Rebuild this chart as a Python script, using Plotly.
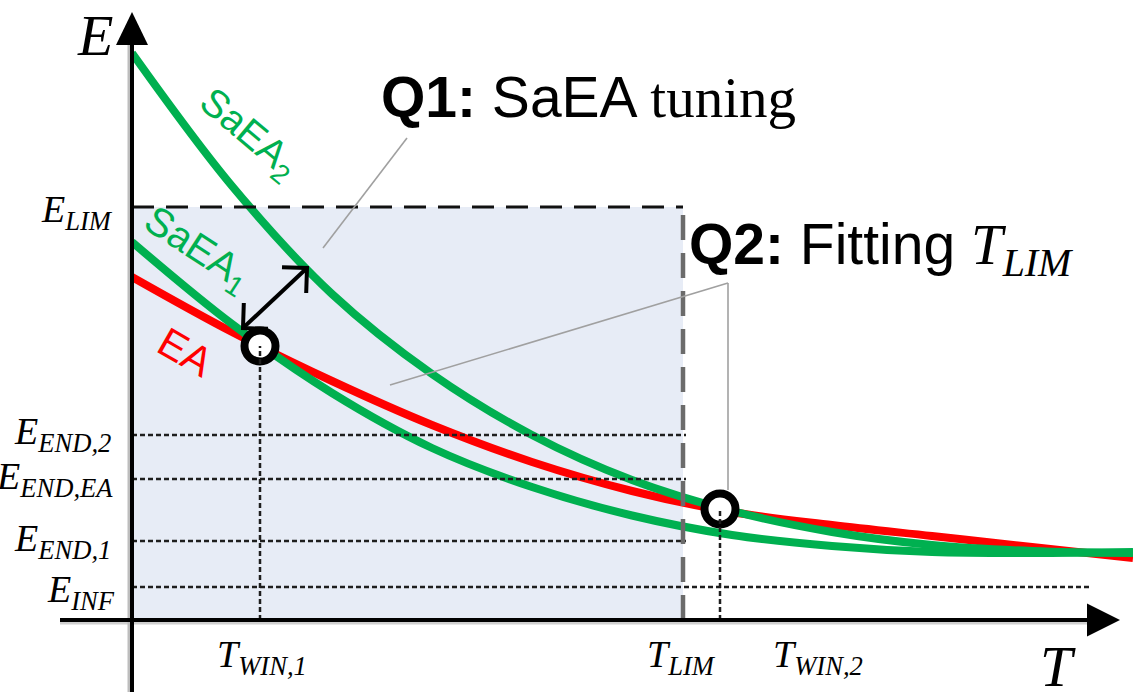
import math
import plotly.graph_objects as go

# ---- curve samples: T (time) vs E (error) ----
t_grid = [0, 1, 2, 3, 4, 5, 6, 7, 8, 9, 10.01]
e_saea2 = [5.67, 4.34, 3.26, 2.46, 1.85, 1.40, 1.09, 0.88, 0.75, 0.69, 0.67]
e_saea1 = [3.78, 2.96, 2.27, 1.72, 1.33, 1.045, 0.85, 0.74, 0.68, 0.67, 0.68]
e_ea = [3.43, 2.88, 2.39, 1.95, 1.58, 1.29, 1.08, 0.95, 0.84, 0.73, 0.62]

# ---- reference levels ----
E_LIM = 4.13
E_END_2 = 1.85
E_END_EA = 1.41
E_END_1 = 0.79
E_INF = 0.33
T_LIM = 5.51
T_WIN_1 = 1.28
T_WIN_2 = 5.88
T_INF_END = 9.6

# crossing points where one algorithm overtakes the other
win_t = [T_WIN_1, T_WIN_2]
win_e = [2.74, 1.11]

# tuning arrow (from SaEA1 towards SaEA2)
arrow_start = (1.11, 2.92)
arrow_end = (1.75, 3.52)

# axis extents
X_MIN, X_MAX = -1.32, 10.01
Y_MIN, Y_MAX = -0.72, 6.20
X_AXIS_START, X_AXIS_TIP = -0.72, 9.88
Y_AXIS_TIP = 6.08
HEAD = 0.33

GREEN = "#00B050"
RED = "#FF0000"
SERIF = "Liberation Serif"
SANS = "Liberation Sans"

fig = go.Figure()
shapes = []

# shaded feasible region E <= E_LIM, T <= T_LIM
shapes.append(dict(type="rect", x0=0, x1=T_LIM, y0=0, y1=E_LIM,
                   fillcolor="rgb(231,236,246)", line=dict(width=0), layer="below"))

dot = dict(color="#1e1e1e", width=2.5, dash="5px,3px")
for lvl in [E_END_2, E_END_EA, E_END_1]:
    shapes.append(dict(type="line", x0=0, x1=T_LIM + 0.03, y0=lvl, y1=lvl, line=dot))
shapes.append(dict(type="line", x0=0, x1=T_INF_END, y0=E_INF, y1=E_INF, line=dot))
shapes.append(dict(type="line", x0=T_WIN_1, x1=T_WIN_1, y0=0, y1=win_e[0], line=dot))
shapes.append(dict(type="line", x0=T_WIN_2, x1=T_WIN_2, y0=0, y1=win_e[1], line=dot))

# limits
shapes.append(dict(type="line", x0=0, x1=T_LIM, y0=E_LIM, y1=E_LIM,
                   line=dict(color="#111111", width=3, dash="22px,12px")))
shapes.append(dict(type="line", x0=T_LIM, x1=T_LIM, y0=0, y1=E_LIM,
                   line=dict(color="#6b6b6b", width=4.5, dash="25px,13px")))

# leader lines for the questions
lead = dict(color="#a0a0a0", width=1.6)
shapes.append(dict(type="line", x0=2.75, y0=4.82, x1=1.91, y1=3.72, line=lead))
shapes.append(dict(type="line", x0=5.96, y0=3.37, x1=2.58, y1=2.35, line=lead))
shapes.append(dict(type="line", x0=5.96, y0=3.37, x1=5.96, y1=1.30, line=lead))

# axes with arrow heads
shapes.append(dict(type="line", x0=X_AXIS_START, x1=X_AXIS_TIP - HEAD + 0.02, y0=-0.03, y1=-0.03,
                   line=dict(color="#cfcfcf", width=3)))
shapes.append(dict(type="line", x0=-0.03, x1=-0.03, y0=Y_MIN, y1=Y_AXIS_TIP - HEAD,
                   line=dict(color="#bdbdbd", width=3)))
shapes.append(dict(type="line", x0=X_AXIS_START, x1=X_AXIS_TIP - HEAD + 0.02, y0=0, y1=0,
                   line=dict(color="black", width=4)))
shapes.append(dict(type="line", x0=0, x1=0, y0=Y_MIN, y1=Y_AXIS_TIP - HEAD + 0.02,
                   line=dict(color="black", width=4)))
shapes.append(dict(type="path",
                   path=f"M {X_AXIS_TIP - HEAD},{0.165} L {X_AXIS_TIP},0 L {X_AXIS_TIP - HEAD},{-0.165} Z",
                   fillcolor="black", line=dict(width=0)))
shapes.append(dict(type="path",
                   path=f"M {-0.16},{Y_AXIS_TIP - HEAD} L 0,{Y_AXIS_TIP} L {0.16},{Y_AXIS_TIP - HEAD} Z",
                   fillcolor="black", line=dict(width=0)))

# curves
fig.add_trace(go.Scatter(x=t_grid, y=e_ea, mode="lines", line=dict(color=RED, width=8, shape="spline"),
                         hoverinfo="skip"))
fig.add_trace(go.Scatter(x=t_grid, y=e_saea1, mode="lines", line=dict(color=GREEN, width=8, shape="spline"),
                         hoverinfo="skip"))
fig.add_trace(go.Scatter(x=t_grid, y=e_saea2, mode="lines", line=dict(color=GREEN, width=8, shape="spline"),
                         hoverinfo="skip"))

# double-headed tuning arrow
def chevron(tip, back, length=0.25):
    dx, dy = back[0] - tip[0], back[1] - tip[1]
    n = math.hypot(dx, dy)
    dx, dy = dx / n, dy / n
    pts = []
    for a in (math.pi / 4, -math.pi / 4):
        c, s = math.cos(a), math.sin(a)
        pts.append((tip[0] + length * (c * dx - s * dy), tip[1] + length * (s * dx + c * dy)))
    return [pts[0][0], tip[0], pts[1][0]], [pts[0][1], tip[1], pts[1][1]]

fig.add_trace(go.Scatter(x=[arrow_start[0], arrow_end[0]], y=[arrow_start[1], arrow_end[1]],
                         mode="lines", line=dict(color="black", width=4), hoverinfo="skip"))
for tip, back in ((arrow_end, arrow_start), (arrow_start, arrow_end)):
    cx, cy = chevron(tip, back)
    fig.add_trace(go.Scatter(x=cx, y=cy, mode="lines", line=dict(color="black", width=4),
                             hoverinfo="skip"))

# crossing markers
fig.add_trace(go.Scatter(x=win_t, y=win_e, mode="markers",
                         marker=dict(size=31, color="white", line=dict(color="black", width=8)),
                         hoverinfo="skip"))

ann = []

def math_label(x, y, main, sub, size=38, xanchor="center", yanchor="middle"):
    txt = f"<i>{main}</i>" + (f"<sub><i>{sub}</i></sub>" if sub else "")
    ann.append(dict(x=x, y=y, text=txt, showarrow=False, xanchor=xanchor, yanchor=yanchor,
                    font=dict(family=SERIF, size=size, color="black")))

math_label(-0.37, 5.85, "E", None, size=58)
math_label(9.26, -0.46, "T", None, size=58)
math_label(-0.17, E_LIM - 0.05, "E", "LIM", xanchor="right")
math_label(-0.19, E_END_2 + 0.01, "E", "END,2", xanchor="right")
math_label(-0.17, E_END_EA + 0.0, "E", "END,EA", xanchor="right")
math_label(-0.19, E_END_1 + 0.0, "E", "END,1", xanchor="right")
math_label(-0.15, E_INF - 0.05, "E", "INF", xanchor="right")
math_label(T_WIN_1 + 0.02, -0.37, "T", "WIN,1")
math_label(T_LIM - 0.02, -0.37, "T", "LIM")
math_label(6.86, -0.37, "T", "WIN,2")

# curve names
ann.append(dict(x=1.16, y=4.86, text="SaEA<sub>2</sub>", textangle=40, showarrow=False,
                font=dict(family=SANS, size=39, color=GREEN)))
ann.append(dict(x=0.65, y=3.70, text="SaEA<sub>1</sub>", textangle=33, showarrow=False,
                font=dict(family=SANS, size=40, color=GREEN)))
ann.append(dict(x=0.53, y=2.68, text="EA", textangle=30, showarrow=False,
                font=dict(family=SANS, size=41, color=RED)))

# research questions
ann.append(dict(x=2.47, y=5.23, xanchor="left", yanchor="middle", showarrow=False,
                text="<b>Q1:</b> SaEA <span style='font-family:Liberation Serif'>tuning</span>",
                font=dict(family=SANS, size=57, color="black")))
ann.append(dict(x=5.55, y=3.72, xanchor="left", yanchor="middle", showarrow=False,
                text="<b>Q2:</b> Fitting <span style='font-family:Liberation Serif'><i>T</i><sub><i>LIM</i></sub></span>",
                font=dict(family=SANS, size=57, color="black")))

fig.update_layout(
    width=1133, height=692,
    margin=dict(l=0, r=0, t=0, b=0),
    paper_bgcolor="white", plot_bgcolor="white",
    showlegend=False,
    xaxis=dict(range=[X_MIN, X_MAX], visible=False, fixedrange=True),
    yaxis=dict(range=[Y_MIN, Y_MAX], visible=False, fixedrange=True),
    shapes=shapes,
    annotations=ann,
)

fig.write_html("out.html")
